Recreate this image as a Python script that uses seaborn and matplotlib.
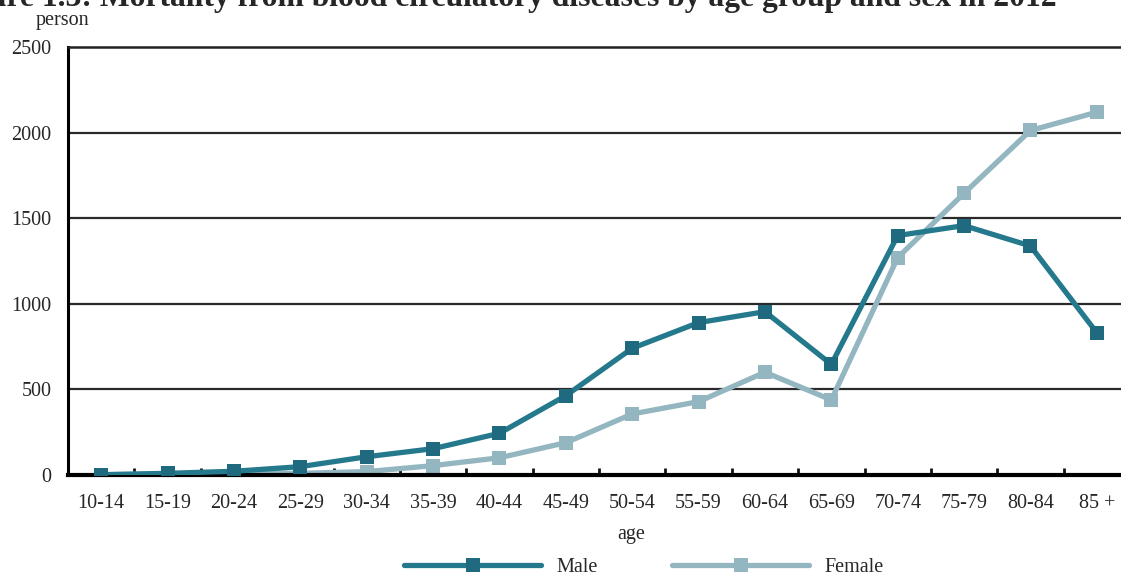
import matplotlib
matplotlib.use("Agg")
import matplotlib.pyplot as plt
from matplotlib.lines import Line2D
import pandas as pd
import seaborn as sns

# Age groups and deaths from blood circulatory diseases, 2012
age_groups = ["10-14", "15-19", "20-24", "25-29", "30-34", "35-39", "40-44", "45-49",
              "50-54", "55-59", "60-64", "65-69", "70-74", "75-79", "80-84", "85 +"]
male = [0, 8, 20, 47, 105, 152, 242, 462, 739, 889, 953, 645, 1398, 1456, 1337, 830]
female = [0, 4, 10, 8, 18, 53, 99, 187, 355, 427, 599, 437, 1269, 1645, 2012, 2119]
y_ticks = [0, 500, 1000, 1500, 2000, 2500]

title = "Figure 1.3: Mortality from blood circulatory diseases by age group and sex in 2012"

MALE_LINE = "#25798c"
MALE_MARK = "#1f6a7e"
FEMALE_LINE = "#93b6c0"
FEMALE_MARK = "#93b6c0"

sns.set_theme(style="white")
plt.rcParams["font.family"] = ["Liberation Serif", "DejaVu Serif"]
plt.rcParams["axes.unicode_minus"] = False

df = pd.DataFrame({
    "age": age_groups * 2,
    "deaths": male + female,
    "sex": ["Male"] * len(age_groups) + ["Female"] * len(age_groups),
})

FS = 14.5
W, H = 1121, 575
fig = plt.figure(figsize=(W / 100, H / 100), dpi=100)
left_px, right_px, top_px, bottom_px = 68, 1130, 47, 474.7
ax = fig.add_axes([left_px / W, 1 - bottom_px / H,
                   (right_px - left_px) / W, (bottom_px - top_px) / H])

styles = {"Male": (MALE_LINE, MALE_MARK), "Female": (FEMALE_LINE, FEMALE_MARK)}
for sex in ["Female", "Male"]:
    line_c, mark_c = styles[sex]
    sns.lineplot(data=df[df["sex"] == sex], x="age", y="deaths", ax=ax,
                 sort=False, color=line_c, linewidth=3.8, marker="s",
                 markersize=10.5, markerfacecolor=mark_c, markeredgecolor=mark_c,
                 markeredgewidth=0, zorder=3 if sex == "Male" else 2, legend=False)

ax.set_xlim(-0.5, len(age_groups) - 0.5)
ax.set_ylim(0, 2500)
ax.set_yticks(y_ticks)
ax.set_yticklabels([str(v) for v in y_ticks], fontsize=FS)

# Category labels at centres, tick marks at category boundaries
ax.set_xticks([i + 0.5 for i in range(len(age_groups) - 1)])
ax.set_xticklabels([])
ax.set_xticks(range(len(age_groups)), minor=True)
ax.set_xticklabels(age_groups, minor=True, fontsize=FS)
ax.tick_params(axis="x", which="major", direction="in", length=5, width=2,
               color="#111111", bottom=True)
ax.tick_params(axis="x", which="minor", length=0, pad=14)
ax.tick_params(axis="y", length=0, pad=12)

for v in y_ticks[1:-1]:
    ax.axhline(v, color="#2a2a2a", linewidth=1.6, zorder=1)

for side in ["left", "bottom"]:
    ax.spines[side].set_color("black")
ax.spines["left"].set_linewidth(2.2)
ax.spines["bottom"].set_linewidth(3.0)
ax.spines["top"].set_color("#222222")
ax.spines["top"].set_linewidth(1.8)
ax.spines["right"].set_visible(False)
ax.grid(False)

ax.set_xlabel("")
ax.set_ylabel("")
fig.text(62 / W, 1 - 21 / H, "person", ha="center", va="center", fontsize=FS)
fig.text(631 / W, 1 - 534 / H, "age", ha="center", va="center", fontsize=FS)

fig.text(1057 / W, 1 - 6 / H, title, ha="right", va="baseline",
         fontsize=22.8, fontweight="bold")

handles = [
    Line2D([], [], color=MALE_LINE, linewidth=3.8, marker="s", markersize=10.5,
           markerfacecolor=MALE_MARK, markeredgewidth=0, solid_capstyle="round"),
    Line2D([], [], color=FEMALE_LINE, linewidth=3.8, marker="s", markersize=10.5,
           markerfacecolor=FEMALE_MARK, markeredgewidth=0, solid_capstyle="round"),
]
fig.legend(handles, ["Male", "Female"], loc="center", ncol=2,
           bbox_to_anchor=(644 / W, 1 - 567 / H), frameon=False, fontsize=FS,
           handlelength=6.8, handletextpad=0.75, columnspacing=3.7, numpoints=1,
           borderaxespad=0, borderpad=0)

fig.savefig("out.png", dpi=100)
